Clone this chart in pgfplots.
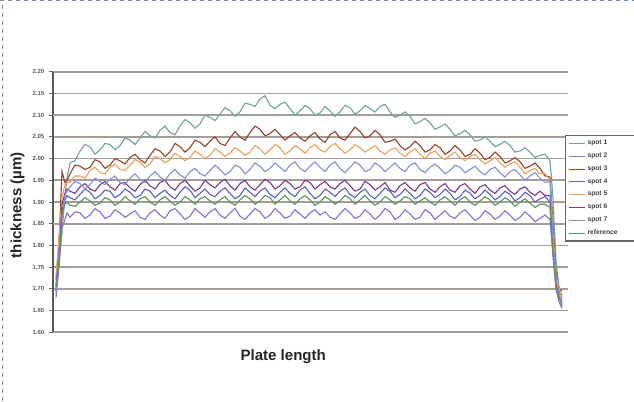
\documentclass[border=0pt]{standalone}
\usepackage{pgfplots}
\pgfplotsset{compat=1.18}
\usepackage{pgfplotstable}
\usepackage{fontspec}
\setmainfont{Liberation Sans}
\definecolor{cteal}{RGB}{110,165,160}
\definecolor{clav}{RGB}{145,110,215}
\definecolor{cbrown}{RGB}{150,70,40}
\definecolor{cblue}{RGB}{90,100,200}
\definecolor{corange}{RGB}{240,160,90}
\definecolor{cpurple}{RGB}{125,60,145}
\definecolor{clblue}{RGB}{130,145,225}
\definecolor{cgreen}{RGB}{90,150,90}
\definecolor{cgrid}{RGB}{165,157,152}
\definecolor{cframe}{RGB}{120,135,175}
\pgfplotstableread{
x s1 s2 s3 s4 s5 s6 s7 s8
56 2.0 1.6 2.4 1.9 2.6 2.2 1.8 2.1
59 3.2 3.0 4.1 3.6 4.4 3.4 3.8 3.3
62 4.6 4.8 7.4 5.6 6.2 5.9 5.2 5.5
65 6.3 5.2 6.9 6.1 6.8 6.4 6.3 5.9
67 7.1 5.5 7.0 6.3 6.9 6.6 6.5 6.0
70 7.8 5.3 7.3 6.2 6.9 6.5 6.7 5.85
75 7.9 5.55 7.7 6.1 7.2 6.4 6.95 5.8
80 8.35 5.5 7.65 6.35 7.2 6.7 6.85 6.0
85 8.65 5.25 7.5 6.6 7.1 6.85 6.6 6.2
90 8.55 5.4 7.6 6.45 7.45 6.6 6.8 6.05
95 8.2 5.7 7.95 6.15 7.6 6.5 7.1 5.85
100 8.4 5.55 7.85 6.3 7.35 6.8 6.95 5.95
105 8.7 5.25 7.55 6.55 7.3 6.95 6.8 6.2
110 8.65 5.35 7.7 6.5 7.6 6.7 7.05 6.1
115 8.4 5.65 8.0 6.2 7.75 6.55 7.2 5.85
120 8.6 5.5 7.9 6.35 7.5 6.85 6.9 6.0
125 8.95 5.3 7.75 6.6 7.45 6.9 6.8 6.25
130 8.85 5.45 8.05 6.45 7.7 6.65 7.1 6.05
135 8.65 5.6 8.2 6.2 7.95 6.5 7.3 5.9
140 8.95 5.3 7.95 6.3 7.85 6.8 7.05 6.15
145 9.25 5.2 7.8 6.6 7.6 7.0 6.9 6.25
150 9.05 5.5 8.15 6.5 7.75 6.75 7.2 6.0
155 8.95 5.65 8.45 6.2 8.1 6.6 7.4 5.85
160 9.3 5.4 8.35 6.4 8.0 6.9 7.15 6.1
165 9.5 5.25 8.1 6.55 7.8 7.0 7.0 6.25
170 9.2 5.6 8.3 6.3 7.95 6.7 7.3 6.05
175 9.1 5.7 8.7 6.15 8.25 6.55 7.5 5.85
180 9.5 5.45 8.55 6.45 8.1 6.85 7.25 6.0
185 9.8 5.2 8.3 6.7 7.9 7.0 7.1 6.25
190 9.65 5.35 8.5 6.55 8.05 6.75 7.4 6.1
195 9.4 5.7 8.85 6.2 8.35 6.5 7.55 5.9
200 9.6 5.5 8.75 6.4 8.2 6.65 7.3 6.15
205 10.0 5.3 8.55 6.6 8.0 7.0 7.2 6.25
210 9.9 5.55 8.8 6.35 8.15 6.8 7.45 6.05
215 9.75 5.7 9.0 6.25 8.45 6.65 7.7 5.9
220 10.05 5.4 8.7 6.5 8.3 6.9 7.5 6.1
225 10.35 5.25 8.6 6.65 8.1 7.05 7.25 6.25
230 10.2 5.5 8.95 6.4 8.25 6.75 7.4 6.0
235 9.95 5.7 9.25 6.15 8.5 6.55 7.7 5.85
240 10.15 5.35 9.0 6.3 8.35 6.85 7.6 6.1
245 10.55 5.2 8.85 6.65 8.15 7.0 7.3 6.3
250 10.5 5.45 9.2 6.45 8.3 6.7 7.5 6.15
255 10.4 5.7 9.5 6.25 8.6 6.55 7.8 5.9
260 10.75 5.55 9.35 6.5 8.45 6.8 7.65 6.05
265 10.9 5.25 9.05 6.65 8.2 7.05 7.4 6.3
270 10.45 5.4 9.15 6.35 8.4 6.9 7.55 6.2
275 10.3 5.7 9.35 6.2 8.65 6.6 7.8 5.9
280 10.5 5.5 9.1 6.45 8.5 6.75 7.6 6.1
285 10.6 5.25 8.85 6.65 8.2 7.0 7.4 6.3
290 10.3 5.35 9.05 6.4 8.35 6.85 7.7 6.05
295 10.0 5.65 9.2 6.25 8.6 6.6 7.85 5.9
300 10.2 5.45 8.95 6.55 8.45 6.7 7.55 6.15
305 10.45 5.25 8.8 6.7 8.25 7.0 7.4 6.3
310 10.3 5.5 9.05 6.4 8.5 6.9 7.65 6.1
315 10.0 5.65 9.2 6.15 8.65 6.6 7.85 5.85
320 10.1 5.4 8.9 6.3 8.4 6.8 7.6 6.0
325 10.4 5.55 8.75 6.6 8.3 6.95 7.4 6.25
330 10.2 5.3 9.1 6.45 8.55 6.7 7.7 6.1
335 9.95 5.2 9.25 6.25 8.7 6.6 7.85 5.9
340 10.15 5.45 8.95 6.5 8.45 6.85 7.55 6.05
345 10.45 5.7 8.85 6.65 8.25 7.0 7.35 6.3
350 10.35 5.5 9.15 6.35 8.4 6.75 7.6 6.15
355 10.05 5.25 9.45 6.2 8.65 6.5 7.85 5.9
360 10.2 5.35 9.25 6.45 8.5 6.6 7.7 6.1
365 10.45 5.65 8.95 6.6 8.3 6.95 7.4 6.3
370 10.3 5.45 9.05 6.3 8.45 6.8 7.5 6.05
375 10.15 5.2 9.3 6.15 8.6 6.55 7.8 5.85
380 10.4 5.4 9.1 6.4 8.35 6.7 7.65 6.0
385 10.5 5.7 8.75 6.65 8.2 6.9 7.4 6.25
390 10.15 5.55 8.8 6.5 8.4 6.55 7.6 6.1
395 9.9 5.2 8.9 6.2 8.5 6.45 7.8 5.9
400 10.0 5.35 8.6 6.35 8.25 6.75 7.55 6.05
405 10.15 5.65 8.4 6.6 8.1 6.9 7.4 6.25
410 9.95 5.45 8.55 6.4 8.3 6.65 7.7 6.15
415 9.6 5.2 8.8 6.15 8.45 6.5 7.8 5.9
420 9.7 5.3 8.6 6.3 8.2 6.8 7.5 6.05
425 9.85 5.65 8.3 6.6 8.0 6.9 7.35 6.2
430 9.65 5.5 8.4 6.45 8.25 6.6 7.6 6.0
435 9.35 5.2 8.65 6.2 8.35 6.45 7.75 5.85
440 9.45 5.4 8.5 6.35 8.1 6.7 7.55 6.1
445 9.6 5.6 8.2 6.6 7.95 6.85 7.3 6.25
450 9.35 5.35 8.35 6.4 8.15 6.55 7.45 6.05
455 9.05 5.25 8.6 6.1 8.3 6.45 7.7 5.85
460 9.15 5.5 8.4 6.25 8.05 6.75 7.6 6.1
465 9.3 5.65 8.1 6.55 7.9 6.85 7.35 6.25
470 9.1 5.4 8.2 6.4 8.1 6.6 7.5 6.0
475 8.8 5.15 8.45 6.15 8.2 6.4 7.65 5.85
480 8.85 5.3 8.25 6.3 7.95 6.7 7.4 6.05
485 9.0 5.6 7.95 6.55 7.75 6.8 7.25 6.25
490 8.8 5.45 8.05 6.35 7.9 6.55 7.5 6.1
495 8.55 5.2 8.3 6.1 8.05 6.4 7.6 5.85
500 8.65 5.35 8.1 6.25 7.8 6.65 7.35 6.0
505 8.8 5.6 7.8 6.5 7.6 6.75 7.15 6.2
510 8.6 5.4 7.9 6.35 7.75 6.5 7.4 6.05
515 8.3 5.15 8.05 6.05 7.85 6.35 7.5 5.8
520 8.35 5.3 7.85 6.2 7.6 6.6 7.25 6.0
525 8.5 5.55 7.55 6.45 7.3 6.7 7.0 6.15
530 8.3 5.35 7.65 6.3 7.45 6.45 7.2 5.95
535 8.05 5.1 7.8 6.0 7.55 6.3 7.35 5.75
540 8.15 5.25 7.55 6.15 7.3 6.5 7.1 5.9
545 8.2 5.4 7.2 6.25 7.3 6.3 6.9 5.9
550 7.9 5.2 7.15 6.0 7.0 6.3 6.95 5.75
553 6.2 3.5 5.0 3.8 4.6 4.0 4.2 3.6
556 3.3 2.0 2.8 2.2 2.6 2.3 2.4 2.1
559 2.1 1.4 2.0 1.9 2.1 1.7 1.8 1.6
562 1.6 1.1 1.9 1.7 1.5 1.4 1.3 1.2
}\datatable
\begin{document}
\begin{tikzpicture}[x=0.75pt,y=0.75pt]
\useasboundingbox (0,0) rectangle (634,401);
\begin{axis}[
  at={(39.75pt,51.5pt)}, anchor=south west,
  scale only axis, width=386.25pt, height=195.45pt,
  xmin=53, xmax=568, ymin=0, ymax=12,
  axis x line*=bottom, axis y line*=left,
  x axis line style={draw=none},
  y axis line style={draw=black!65, line width=1.1pt},
  xtick=\empty,
  ytick={0,1,2,3,4,5,6,7,8,9,10,11,12},
  yticklabels={1.60,1.65,1.70,1.75,1.80,1.85,1.90,1.95,2.00,2.05,2.10,2.15,2.20},
  yticklabel style={font=\fontsize{4.5}{5}\selectfont\bfseries, text=black!65},
  tick align=outside, major tick length=3pt,
  ytick style={draw=black!60, line width=0.8pt},
  ymajorgrids, major grid style={draw=cgrid, line width=1.3pt},
  extra y ticks={5,10}, extra y tick labels={},
  extra y tick style={grid style={draw=black!80, line width=1.1pt}},
  xlabel={\bfseries Plate length},
  ylabel={\bfseries thickness (µm)},
  label style={font=\fontsize{11.3}{13}\selectfont, text=black!85},
  xlabel style={at={(axis description cs:0.447,-0.095)}, anchor=center},
  ylabel style={at={(axis description cs:-0.069,0.488)}, anchor=center},
  every axis plot/.append style={line width=0.85pt},
  legend cell align=left,
  legend style={at={(0.994,0.757)}, anchor=north west,
    draw=black!60, line width=0.8pt, fill=white,
    font=\fontsize{5}{5.5}\selectfont\bfseries, text=black!75,
    inner xsep=2pt, inner ysep=1.5pt, row sep=0.6pt},
  legend image code/.code={\draw[#1, line width=0.6pt] (0pt,0pt) -- (12pt,0pt);},
]
\addplot[cteal, no markers] table[x=x, y=s1] {\datatable};
\addlegendentry{spot 1}
\addplot[clav, no markers] table[x=x, y=s2] {\datatable};
\addlegendentry{spot 2}
\addplot[cbrown, no markers] table[x=x, y=s3] {\datatable};
\addlegendentry{spot 3}
\addplot[cblue, no markers] table[x=x, y=s4] {\datatable};
\addlegendentry{spot 4}
\addplot[corange, no markers] table[x=x, y=s5] {\datatable};
\addlegendentry{spot 5}
\addplot[cpurple, no markers] table[x=x, y=s6] {\datatable};
\addlegendentry{spot 6}
\addplot[clblue, no markers] table[x=x, y=s7] {\datatable};
\addlegendentry{spot 7}
\addplot[cgreen, no markers] table[x=x, y=s8] {\datatable};
\addlegendentry{\makebox[48pt][l]{reference}}
\end{axis}
\draw[cframe, dashed, line width=0.8pt] (0,400.3) -- (634,400.3);
\draw[cframe, dashed, line width=0.8pt] (2.7,0) -- (2.7,401);
\end{tikzpicture}
\end{document}
